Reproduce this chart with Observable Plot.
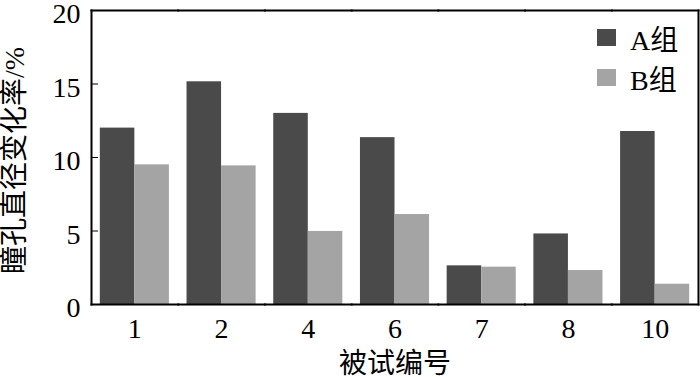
<!DOCTYPE html>
<html>
<head>
<meta charset="utf-8">
<script src="https://cdn.jsdelivr.net/npm/d3@7"></script>
<script src="https://cdn.jsdelivr.net/npm/@observablehq/plot@0.6"></script>
<style>
  body { margin: 0; background: #fff; }
  #wrap { position: relative; width: 700px; height: 377px; }
  .lg-swatch { height: 39px; }
</style>
</head>
<body>
<div id="wrap"></div>
<script>
const subjects = ["1", "2", "4", "6", "7", "8", "10"];
const series = ["A组", "B组"];
const groupA = [12.0, 15.15, 13.0, 11.35, 2.63, 4.8, 11.77];
const groupB = [9.5, 9.43, 4.97, 6.12, 2.54, 2.31, 1.38];
const seriesColors = ["#4a4a4a", "#a4a4a4"];
const yTicks = [0, 5, 10, 15, 20];
const yTitle = "瞳孔直径变化率/%";
const xTitle = "被试编号";

const rows = [];
subjects.forEach((s, i) => {
  rows.push({subject: s, group: series[0], value: groupA[i]});
  rows.push({subject: s, group: series[1], value: groupB[i]});
});

const font = "'Liberation Serif', 'Noto Sans CJK SC', serif";

const chart = Plot.plot({
  width: 700,
  height: 377,
  marginLeft: 91,
  marginRight: 2,
  marginTop: 10,
  marginBottom: 73,
  style: {fontFamily: font, fontSize: "28px", color: "#000", background: "#fff"},
  fx: {domain: subjects, padding: 0, round: false},
  x: {domain: series, paddingInner: 0, paddingOuter: 0.255, round: false, axis: null},
  y: {domain: [0, 20]},
  color: {domain: series, range: seriesColors},
  marks: [
    Plot.barY(rows, {fx: "subject", x: "group", y: "value", fill: "group"}),
    Plot.frame({anchor: "top", strokeWidth: 2}),
    Plot.frame({anchor: "bottom", strokeWidth: 2}),
    Plot.frame({anchor: "left", strokeWidth: 2, facetAnchor: "left"}),
    Plot.frame({anchor: "right", strokeWidth: 2, facetAnchor: "right"}),
    Plot.axisY({ticks: yTicks, tickSize: -7, tickFormat: () => "", label: null}),
    Plot.axisY({ticks: yTicks, tickSize: 0, tickPadding: 11, dy: 4, label: null, fontSize: 28, fontFamily: font}),
    Plot.text([yTitle], {frameAnchor: "left", textAnchor: "middle", lineAnchor: "middle", rotate: -90, dx: -76, dy: 3, facetAnchor: "left", fontSize: 28, fontFamily: font, fill: "#000"}),
    Plot.axisFx({anchor: "bottom", tickSize: 0, tickPadding: 14, label: xTitle, labelAnchor: "center", labelOffset: 68, fontSize: 28, fontFamily: font})
  ]
});
document.getElementById("wrap").append(chart);

const leg = Plot.legend({
  color: chart.scale("color"),
  legend: "swatches",
  columns: 1,
  className: "lg",
  swatchWidth: 19,
  swatchHeight: 17,
  style: {fontFamily: font, fontSize: "28px", color: "#000"}
});
leg.style.position = "absolute";
leg.style.left = "597px";
leg.style.top = "18px";
leg.style.margin = "0";
document.getElementById("wrap").append(leg);
</script>
</body>
</html>
